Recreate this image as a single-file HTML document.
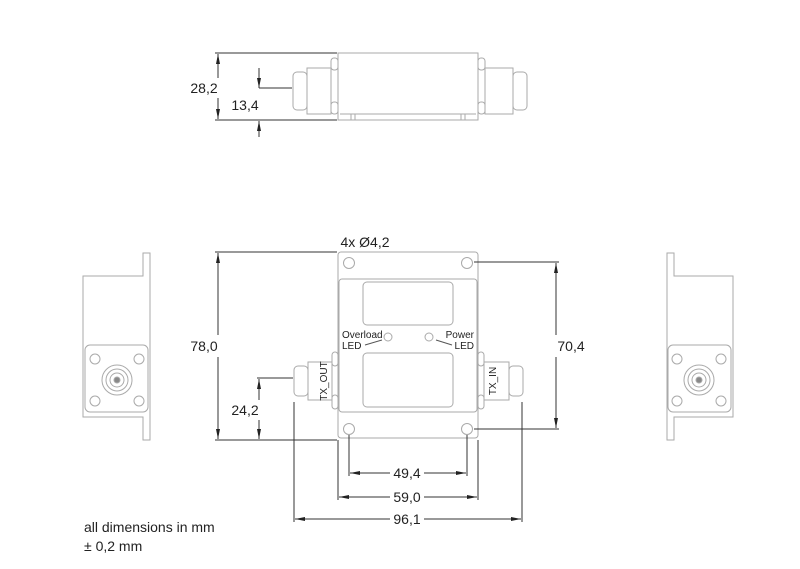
<!DOCTYPE html>
<html><head><style>body{margin:0;background:#fff}svg{display:block}text{font-family:"Liberation Sans",sans-serif;fill:#222}</style></head><body>
<svg width="800" height="569" viewBox="0 0 800 569" xmlns="http://www.w3.org/2000/svg">
<defs>
<marker id="a" viewBox="0 0 10 6" refX="10" refY="3" markerWidth="10" markerHeight="6" orient="auto-start-reverse" markerUnits="userSpaceOnUse"><path d="M0,1 L10,3 L0,5z" fill="#222"/></marker>
</defs>
<g fill="none" stroke="#aaa" stroke-width="1">
<!-- top view -->
<rect x="338" y="53" width="140" height="67"/>
<line x1="340" y1="114" x2="476" y2="114"/>
<line x1="351" y1="114" x2="351" y2="120"/><line x1="355" y1="114" x2="355" y2="120"/>
<line x1="461" y1="114" x2="461" y2="120"/><line x1="465" y1="114" x2="465" y2="120"/>
<rect x="293" y="72" width="14" height="38" rx="4"/><rect x="307" y="68" width="24" height="46"/>
<rect x="331" y="58" width="7" height="12" rx="3"/><rect x="331" y="102" width="7" height="12" rx="3"/>
<rect x="478" y="58" width="7" height="12" rx="3"/><rect x="478" y="102" width="7" height="12" rx="3"/>
<rect x="485" y="68" width="28" height="46"/><rect x="513" y="72" width="14" height="38" rx="4"/>
<!-- front -->
<rect x="338" y="252" width="140" height="186" rx="3"/>
<rect x="339" y="279" width="138" height="133" rx="3"/>
<rect x="363" y="282" width="90" height="43" rx="4"/>
<rect x="363" y="353" width="90" height="54" rx="4"/>
<circle cx="349" cy="263" r="5.5"/><circle cx="467" cy="263" r="5.5"/>
<circle cx="349" cy="429" r="5.5"/><circle cx="467" cy="429" r="5.5"/>
<circle cx="388" cy="337" r="4"/><circle cx="429" cy="337" r="4"/>
<path d="M365,345 L382,340 M436,340 L452,345" stroke="#555"/>
<rect x="294" y="366" width="14" height="30" rx="4"/><rect x="308" y="362" width="24" height="38"/>
<rect x="332" y="352" width="6" height="14" rx="3"/><rect x="332" y="395" width="6" height="14" rx="3"/>
<rect x="478" y="352" width="6" height="14" rx="3"/><rect x="478" y="395" width="6" height="14" rx="3"/>
<rect x="484" y="362" width="25" height="38"/><rect x="509" y="366" width="14" height="30" rx="4"/>
<!-- left side -->
<path d="M143,253 h7 v187 h-7 v-23 h-60 v-141 h60 z"/>
<rect x="85" y="345" width="63" height="67" rx="5"/>
<circle cx="95" cy="359" r="5"/><circle cx="139" cy="359" r="5"/><circle cx="95" cy="401" r="5"/><circle cx="139" cy="401" r="5"/>
<circle cx="117" cy="380" r="15"/><circle cx="117" cy="380" r="11"/><circle cx="117" cy="380" r="7"/><circle cx="117" cy="380" r="3" fill="#888"/>
<!-- right side -->
<path d="M674,253 h-7 v187 h7 v-23 h59 v-141 h-59 z"/>
<rect x="668" y="345" width="63" height="67" rx="5"/>
<circle cx="677" cy="359" r="5"/><circle cx="721" cy="359" r="5"/><circle cx="677" cy="401" r="5"/><circle cx="721" cy="401" r="5"/>
<circle cx="699" cy="380" r="15"/><circle cx="699" cy="380" r="11"/><circle cx="699" cy="380" r="7"/><circle cx="699" cy="380" r="3" fill="#888"/>
</g>
<g stroke="#333" stroke-width="1" fill="none">
<!-- top dims -->
<line x1="215" y1="53" x2="337" y2="53"/><line x1="215" y1="120" x2="337" y2="120"/>
<line x1="218" y1="54" x2="218" y2="78" marker-start="url(#a)"/><line x1="218" y1="98" x2="218" y2="119" marker-end="url(#a)"/>
<line x1="259" y1="88" x2="292" y2="88"/>
<line x1="259" y1="68" x2="259" y2="88" marker-end="url(#a)"/>
<line x1="259" y1="137" x2="259" y2="121" marker-end="url(#a)"/>
<!-- front dims -->
<line x1="215" y1="252" x2="337" y2="252"/><line x1="215" y1="440" x2="337" y2="440"/>
<line x1="218" y1="253" x2="218" y2="335" marker-start="url(#a)"/><line x1="218" y1="357" x2="218" y2="439" marker-end="url(#a)"/>
<line x1="474" y1="262" x2="559" y2="262"/><line x1="474" y1="429" x2="559" y2="429"/>
<line x1="556" y1="263" x2="556" y2="335" marker-start="url(#a)"/><line x1="556" y1="357" x2="556" y2="428" marker-end="url(#a)"/>
<line x1="257" y1="378" x2="293" y2="378"/>
<line x1="259" y1="379" x2="259" y2="400" marker-start="url(#a)"/><line x1="259" y1="420" x2="259" y2="439" marker-end="url(#a)"/>
<line x1="349" y1="435" x2="349" y2="476"/><line x1="467" y1="435" x2="467" y2="476"/>
<line x1="338" y1="440" x2="338" y2="500"/><line x1="478" y1="440" x2="478" y2="500"/>
<line x1="294" y1="402" x2="294" y2="522"/><line x1="522" y1="402" x2="522" y2="522"/>
<line x1="350" y1="473" x2="390" y2="473" marker-start="url(#a)"/><line x1="424" y1="473" x2="466" y2="473" marker-end="url(#a)"/>
<line x1="339" y1="497" x2="390" y2="497" marker-start="url(#a)"/><line x1="424" y1="497" x2="477" y2="497" marker-end="url(#a)"/>
<line x1="295" y1="519" x2="390" y2="519" marker-start="url(#a)"/><line x1="424" y1="519" x2="521" y2="519" marker-end="url(#a)"/>
</g>
<g font-size="14">
<text x="204" y="93" text-anchor="middle">28,2</text>
<text x="245" y="110" text-anchor="middle">13,4</text>
<text x="365" y="247" text-anchor="middle">4x Ø4,2</text>
<text x="204" y="351" text-anchor="middle">78,0</text>
<text x="571" y="351" text-anchor="middle">70,4</text>
<text x="245" y="415" text-anchor="middle">24,2</text>
<text x="407" y="478" text-anchor="middle">49,4</text>
<text x="407" y="502" text-anchor="middle">59,0</text>
<text x="407" y="524" text-anchor="middle">96,1</text>
<text x="84" y="532">all dimensions in mm</text>
<text x="84" y="551">± 0,2 mm</text>
</g>
<g font-size="10">
<text x="342" y="338">Overload</text><text x="342" y="349">LED</text>
<text x="474" y="338" text-anchor="end">Power</text><text x="474" y="349" text-anchor="end">LED</text>
<text transform="translate(327,381) rotate(-90)" text-anchor="middle">TX_OUT</text>
<text transform="translate(496,381) rotate(-90)" text-anchor="middle">TX_IN</text>
</g>
</svg>
</body></html>
